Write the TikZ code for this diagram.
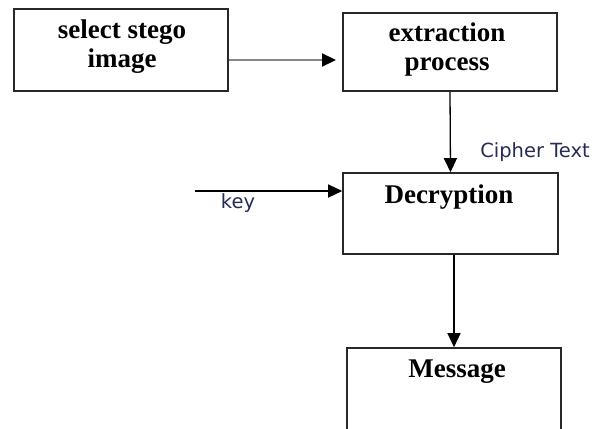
\documentclass[tikz,border=0pt]{standalone}
\usepackage{fontspec}
\setmainfont{Liberation Serif}
\newfontfamily\labelfont{DejaVu Sans}
\usetikzlibrary{arrows.meta}
\definecolor{boxline}{RGB}{40,40,40}
\definecolor{labelblue}{RGB}{35,45,85}
\definecolor{grayline}{RGB}{135,135,135}
\tikzset{
  block/.style={draw=boxline, line width=1.6pt, rectangle, inner sep=0pt},
  title/.style={font=\fontsize{27}{30}\selectfont\bfseries, align=center, inner sep=0pt},
  tag/.style={font=\labelfont\fontsize{19.5}{21}\selectfont, text=labelblue, inner sep=0pt},
  flow/.style={line width=1.3pt, -{Triangle[length=14pt,width=13pt,color=black]}},
}
\begin{document}
\begin{tikzpicture}[x=1pt,y=-1pt]
  \useasboundingbox (0,0) rectangle (604,428);
  \clip (0,0) rectangle (604,428);

  % boxes
  \node[block, minimum width=214pt, minimum height=82pt] (sel) at (121,50) {};
  \node[block, minimum width=214pt, minimum height=78pt] (ext) at (450,52) {};
  \node[block, minimum width=215pt, minimum height=81pt] (dec) at (450.5,213.5) {};
  \node[block, minimum width=214pt, minimum height=120pt] (msg) at (454,408) {};

  % box texts
  \node[title] (selt) at (122,47) {select stego\\[-1pt]image};
  \node[title] (extt) at (447,50) {extraction\\[-1pt]process};
  \node[title] (dect) at (449,197) {Decryption};
  \node[title] (msgt) at (457,372) {Message};

  % connectors
  \draw[flow, draw=grayline, line width=2.2pt] (sel.east |- 0,60) -- (336,60) coordinate (selend);
  \draw[flow] (ext.south) -- (dec.north);
  \coordinate (keyin) at (195,191);
  \draw[flow] (keyin) -- (dec.west |- keyin);
  \draw[flow] (dec.south -| msg.north) -- (msg.north);

  % connector labels
  \node[tag] (ctext) at (535,152) {Cipher Text};
  \node[tag] (ktext) at (238,203) {key};
\end{tikzpicture}
\end{document}
